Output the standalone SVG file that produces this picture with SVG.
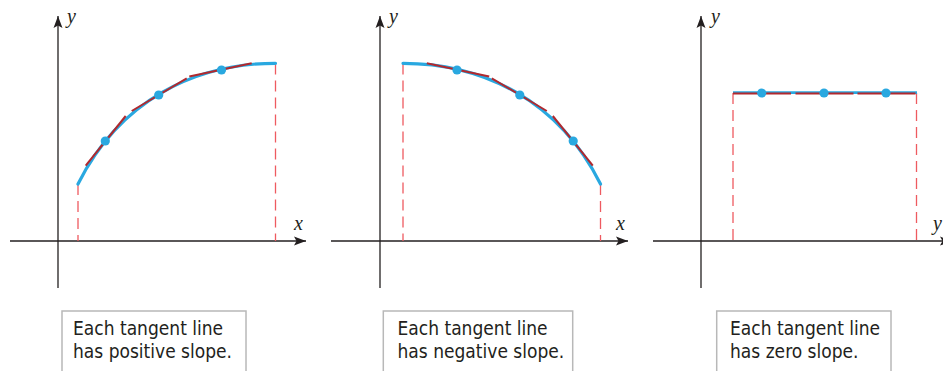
<svg xmlns="http://www.w3.org/2000/svg" width="943" height="371" viewBox="0 0 943 371">
<style>
.axis{stroke:#231f20;stroke-width:1.3;fill:none}
.lbl{font-family:"Liberation Serif",serif;font-style:italic;font-size:20px;fill:#231f20}
.guide{stroke:#ee5a60;stroke-width:1.3;stroke-dasharray:11,6;fill:none}
.curve{stroke:#29a8e0;stroke-width:3.2;fill:none;stroke-linecap:round}
.tan{stroke:#b1292e;stroke-width:2;fill:none}
.dot{fill:#29a8e0}
.box{fill:#fff;stroke:#b8b8b8;stroke-width:1.5}
.cap{font-family:"DejaVu Sans Condensed","DejaVu Sans",sans-serif;font-stretch:condensed;font-size:19px;fill:#231f20}
</style>
<defs>
<marker id="arr" markerUnits="userSpaceOnUse" markerWidth="14" markerHeight="10" refX="12" refY="5" orient="auto">
<path d="M0,0.5 L12,5 L0,9.5 L2.5,5 Z" fill="#231f20"/>
</marker>
</defs>

<g id="panel1">
<g id="axes1">
<line class="axis" x1="58" y1="288" x2="58" y2="16" marker-end="url(#arr)"/>
<line class="axis" x1="10" y1="241" x2="306" y2="241" marker-end="url(#arr)"/>
<text class="lbl" x="67" y="23">y</text>
<text class="lbl" x="294" y="230">x</text>
</g>
<g id="graph1">
<line class="guide" x1="78" y1="184" x2="78" y2="241"/>
<line class="guide" x1="275.5" y1="63.5" x2="275.5" y2="241"/>
<path class="curve" d="M78,184 C120,100 195.7,63.3 275.5,63.3"/>
<line class="tan" x1="85.7" y1="165.7" x2="125.7" y2="116"/>
<line class="tan" x1="131.7" y1="111" x2="186.7" y2="78.3"/>
<line class="tan" x1="189.3" y1="76.5" x2="251.7" y2="63.2"/>
<circle class="dot" cx="105.3" cy="141" r="4.6"/>
<circle class="dot" cx="158.7" cy="95" r="4.6"/>
<circle class="dot" cx="221.5" cy="70" r="4.6"/>
</g>
<g id="caption1">
<rect class="box" x="62" y="311" width="184" height="75"/>
<text class="cap" x="73" y="335">Each tangent line</text>
<text class="cap" x="73" y="358">has positive slope.</text>
</g>
</g>

<g id="panel2">
<g id="axes2">
<line class="axis" x1="380" y1="288" x2="380" y2="16" marker-end="url(#arr)"/>
<line class="axis" x1="331" y1="241" x2="628" y2="241" marker-end="url(#arr)"/>
<text class="lbl" x="389" y="23">y</text>
<text class="lbl" x="616" y="230">x</text>
</g>
<g id="graph2" transform="translate(678.5,0) scale(-1,1)">
<line class="guide" x1="78" y1="184" x2="78" y2="241"/>
<line class="guide" x1="275.5" y1="63.5" x2="275.5" y2="241"/>
<path class="curve" d="M78,184 C120,100 195.7,63.3 275.5,63.3"/>
<line class="tan" x1="85.7" y1="165.7" x2="125.7" y2="116"/>
<line class="tan" x1="131.7" y1="111" x2="186.7" y2="78.3"/>
<line class="tan" x1="189.3" y1="76.5" x2="251.7" y2="63.2"/>
<circle class="dot" cx="105.3" cy="141" r="4.6"/>
<circle class="dot" cx="158.7" cy="95" r="4.6"/>
<circle class="dot" cx="221.5" cy="70" r="4.6"/>
</g>
<g id="caption2">
<rect class="box" x="383.3" y="311" width="189.4" height="75"/>
<text class="cap" x="397.5" y="335">Each tangent line</text>
<text class="cap" x="397.5" y="358">has negative slope.</text>
</g>
</g>

<g id="panel3">
<g id="axes3">
<line class="axis" x1="701" y1="288" x2="701" y2="16" marker-end="url(#arr)"/>
<line class="axis" x1="653" y1="241" x2="952" y2="241" marker-end="url(#arr)"/>
<text class="lbl" x="711" y="23">y</text>
<text class="lbl" x="933" y="230">y</text>
</g>
<g id="graph3">
<line class="guide" x1="733" y1="93" x2="733" y2="241"/>
<line class="guide" x1="916.5" y1="93" x2="916.5" y2="241"/>
<line x1="733" y1="92.6" x2="917" y2="92.6" stroke="#29a8e0" stroke-width="2.6"/>
<line class="tan" x1="733" y1="93.6" x2="791" y2="93.6"/>
<line class="tan" x1="795.5" y1="93.6" x2="853.5" y2="93.6"/>
<line class="tan" x1="857.5" y1="93.6" x2="915.5" y2="93.6"/>
<circle class="dot" cx="761.7" cy="93" r="4.6"/>
<circle class="dot" cx="824" cy="93" r="4.6"/>
<circle class="dot" cx="886" cy="93" r="4.6"/>
</g>
<g id="caption3">
<rect class="box" x="716.7" y="311" width="174.3" height="75"/>
<text class="cap" x="730" y="335">Each tangent line</text>
<text class="cap" x="730" y="358">has zero slope.</text>
</g>
</g>
</svg>
